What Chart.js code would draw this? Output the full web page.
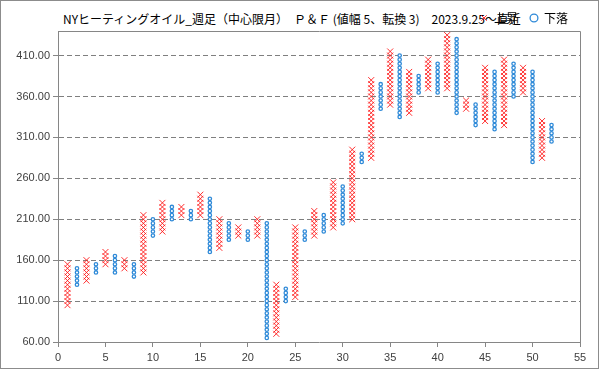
<!DOCTYPE html>
<html>
<head>
<meta charset="utf-8">
<script src="https://cdn.jsdelivr.net/npm/chart.js@4.4.1/dist/chart.umd.min.js"></script>
<style>
html, body { margin: 0; padding: 0; background: #fff; }
#wrap { position: relative; width: 599px; height: 369px; }
#title { position: absolute; left: 63px; top: 10px; font: 12px "Noto Sans CJK JP"; color: #000; white-space: nowrap; }
#myChart { position: absolute; left: 0; top: 0; }
</style>
</head>
<body>
<div id="wrap">
  <div id="title">NYヒーティングオイル_週足（中心限月）　Ｐ＆Ｆ (値幅 5、転換 3)　2023.9.25～直近</div>
  <canvas id="myChart" width="599" height="369"></canvas>
</div>
<script>
// P&F box size (値幅)
const boxSize = 5;

// rising columns (X)
const upCols  = [1, 3, 5, 7, 9, 11, 13, 15, 17, 19, 21, 23, 25, 27, 29, 31, 33, 35, 37, 39, 41, 43, 45, 47, 49, 51];
const upLow   = [105, 135, 155, 150, 145, 195, 215, 215, 175, 190, 190, 70, 115, 190, 200, 210, 285, 350, 340, 370, 370, 345, 330, 325, 365, 285];
const upHigh  = [155, 160, 170, 160, 215, 230, 225, 240, 210, 200, 210, 130, 200, 220, 255, 295, 380, 415, 390, 405, 435, 355, 395, 405, 395, 330];

// falling columns (O)
const downCols = [2, 4, 6, 8, 10, 12, 14, 16, 18, 20, 22, 24, 26, 28, 30, 32, 34, 36, 38, 40, 42, 44, 46, 48, 50, 52];
const downLow  = [130, 145, 145, 140, 190, 210, 210, 170, 185, 185, 65, 110, 185, 195, 205, 280, 345, 335, 365, 365, 340, 325, 320, 360, 280, 305];
const downHigh = [150, 155, 165, 155, 210, 225, 220, 235, 205, 195, 205, 125, 195, 215, 250, 290, 375, 410, 385, 400, 430, 350, 390, 400, 390, 325];

const yTicks = [60, 110, 160, 210, 260, 310, 360, 410];

function boxes(cols, lows, highs) {
  let pts = [];
  cols.forEach((c, i) => {
    for (let v = lows[i]; v <= highs[i]; v += boxSize) pts.push({x: c, y: v});
  });
  return pts;
}

const frame = {
  id: 'frame',
  beforeLayout(chart) {
    // legend sits a bit closer to the plot than chart.js default
    const lg = chart.legend;
    if (lg && !lg._patched) {
      const fit = lg.fit;
      lg.fit = function () { fit.call(this); this.height -= 3; };
      lg._patched = true;
    }
  },
  afterDraw(chart) {
    const ctx = chart.ctx;
    const a = chart.chartArea;
    ctx.save();
    ctx.strokeStyle = '#868686';
    ctx.lineWidth = 1;
    ctx.beginPath();
    ctx.moveTo(Math.round(a.left) + 0.5, Math.round(a.top) + 0.5);
    ctx.lineTo(Math.round(a.right) + 0.5, Math.round(a.top) + 0.5);
    ctx.lineTo(Math.round(a.right) + 0.5, Math.round(a.bottom) + 0.5);
    ctx.stroke();
    ctx.strokeStyle = '#8c8c8c';
    ctx.strokeRect(0.5, 0.5, chart.width - 1, chart.height - 1);
    ctx.restore();
  }
};

const ctx = document.getElementById('myChart').getContext('2d');
const myChart = new Chart(ctx, {
  type: 'scatter',
  data: {
    datasets: [{
      label: '上昇',
      data: boxes(upCols, upLow, upHigh),
      pointStyle: 'crossRot',
      pointRadius: 4.2,
      pointHoverRadius: 4.2,
      borderColor: '#ff1a1a',
      backgroundColor: '#ff1a1a',
      pointBorderWidth: 0.9,
      showLine: false
    }, {
      label: '下落',
      data: boxes(downCols, downLow, downHigh),
      pointStyle: 'circle',
      pointRadius: 1.7,
      pointHoverRadius: 1.7,
      borderColor: '#2f8ad8',
      backgroundColor: '#ffffff',
      pointBorderWidth: 1.3,
      showLine: false
    }]
  },
  options: {
    responsive: false,
    animation: false,
    events: [],
    layout: { padding: { left: 16, right: 19, top: 0, bottom: 0 } },
    plugins: {
      title: { display: false },
      tooltip: { enabled: false },
      legend: {
        position: 'top',
        align: 'end',
        labels: {
          usePointStyle: true,
          boxWidth: 8,
          boxHeight: 5.5,
          padding: 12,
          color: '#000',
          font: { family: 'Noto Sans CJK JP', size: 12 }
        }
      }
    },
    scales: {
      x: {
        type: 'linear',
        min: 0,
        max: 55,
        ticks: { stepSize: 5, color: '#404040', padding: 4, font: { family: 'Liberation Sans', size: 11 } },
        grid: { drawOnChartArea: false, tickLength: 5, tickColor: '#868686' },
        border: { color: '#868686' },
        afterFit(scale) { scale.height = 27; }
      },
      y: {
        type: 'linear',
        min: 60,
        max: 440,
        afterBuildTicks(scale) { scale.ticks = yTicks.map(v => ({value: v})); },
        ticks: {
          color: '#404040',
          padding: 3,
          font: { family: 'Liberation Sans', size: 11 },
          callback: v => Number(v).toFixed(2)
        },
        grid: {
          color: c => (c.tick && c.tick.value === 60) ? 'rgba(0,0,0,0)' : '#7f7f7f',
          tickLength: 5,
          tickColor: '#868686',
          tickBorderDash: []
        },
        border: { color: '#868686', dash: [5, 3] },
        afterFit(scale) { scale.width = 42; }
      }
    }
  },
  plugins: [frame]
});
</script>
</body>
</html>
